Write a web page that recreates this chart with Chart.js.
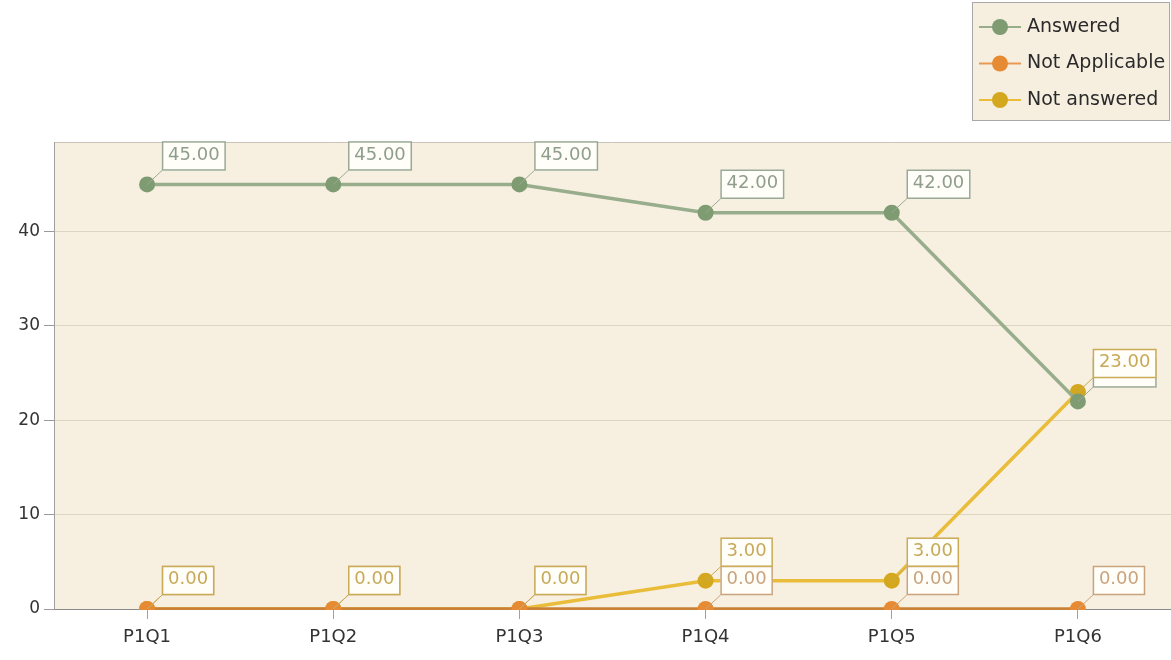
<!DOCTYPE html>
<html>
<head>
<meta charset="utf-8">
<script src="https://cdn.jsdelivr.net/npm/chart.js@4/dist/chart.umd.min.js"></script>
<style>
html,body{margin:0;padding:0;background:#fff;}
#wrap{width:1171px;height:660px;position:relative;}
</style>
</head>
<body>
<div id="wrap"><canvas id="c" width="1171" height="660"></canvas></div>
<script>
const categories = ["P1Q1", "P1Q2", "P1Q3", "P1Q4", "P1Q5", "P1Q6"];
const answered = [45, 45, 45, 42, 42, 22];
const notApplicable = [0, 0, 0, 0, 0, 0];
const notAnswered = [0, 0, 0, 3, 3, 23];
const seriesNames = ["Answered", "Not Applicable", "Not answered"];
const yTicks = [0, 10, 20, 30, 40];

const FONT = "'DejaVu Sans', sans-serif";
const styles = [
  {line: '#97ad8b', point: '#7f9b72', text: '#8f9e8c', box: '#9aa996'},
  {line: '#c98236', point: '#e68b33', text: '#c9a37e', box: '#c9a37e'},
  {line: '#e9bd3a', point: '#d4a81e', text: '#c7a95a', box: '#c9aa55'}
];

const bgPlugin = {
  id: 'bg',
  beforeDraw(chart) {
    const {ctx, chartArea: a} = chart;
    ctx.save();
    ctx.fillStyle = '#f7f0e1';
    ctx.fillRect(a.left, a.top, a.right - a.left, a.bottom - a.top);
    ctx.strokeStyle = '#c9c4ba';
    ctx.lineWidth = 1;
    ctx.beginPath();
    ctx.moveTo(a.left, a.top + 0.5);
    ctx.lineTo(a.right, a.top + 0.5);
    ctx.stroke();
    ctx.restore();
  }
};

const labelPlugin = {
  id: 'boxLabels',
  beforeDatasetsDraw(chart) {
    const {ctx, chartArea: a} = chart;
    ctx.save();
    ctx.beginPath();
    ctx.rect(a.left, 0, chart.width - a.left, a.bottom + 1);
    ctx.clip();
  },
  afterDatasetsDraw(chart) {
    const ctx = chart.ctx;
    ctx.restore();
    ctx.save();
    ctx.font = '18px ' + FONT;
    ctx.textBaseline = 'middle';
    chart.data.datasets.forEach((ds, di) => {
      const meta = chart.getDatasetMeta(di);
      const st = styles[di];
      meta.data.forEach((pt, i) => {
        const txt = ds.data[i].toFixed(2);
        const w = ctx.measureText(txt).width + 12;
        const h = 29;
        const bx = pt.x + 15, by = pt.y - 14 - h;
        ctx.strokeStyle = st.box;
        ctx.lineWidth = 1;
        ctx.beginPath();
        ctx.moveTo(pt.x, pt.y);
        ctx.lineTo(bx, by + h);
        ctx.stroke();
        ctx.fillStyle = '#fffef8';
        ctx.fillRect(bx, by, w, h);
        ctx.lineWidth = 1.5;
        ctx.strokeRect(bx + 0.5, by + 0.5, w - 1, h - 1);
        ctx.fillStyle = st.text;
        ctx.textAlign = 'left';
        ctx.fillText(txt, bx + 6, by + h / 2 - 1);
      });
    });
    ctx.restore();
  }
};

const legendPlugin = {
  id: 'customLegend',
  afterDraw(chart) {
    const ctx = chart.ctx;
    ctx.save();
    const x = 972, y = 2, w = 198, h = 119;
    ctx.fillStyle = '#f6efe0';
    ctx.fillRect(x, y, w, h);
    ctx.strokeStyle = '#a8a8a8';
    ctx.lineWidth = 1;
    ctx.strokeRect(x + 0.5, y + 0.5, w - 1, h - 1);
    ctx.font = '19px ' + FONT;
    ctx.textBaseline = 'middle';
    ctx.textAlign = 'left';
    seriesNames.forEach((name, i) => {
      const cy = 27 + i * 36.5;
      const st = styles[i];
      ctx.strokeStyle = i === 1 ? '#e89a55' : st.line;
      ctx.lineWidth = 2;
      ctx.beginPath();
      ctx.moveTo(979, cy);
      ctx.lineTo(1021, cy);
      ctx.stroke();
      ctx.fillStyle = st.point;
      ctx.beginPath();
      ctx.arc(1000, cy, 8, 0, Math.PI * 2);
      ctx.fill();
      ctx.fillStyle = '#2a2a2a';
      ctx.fillText(name, 1027, cy);
    });
    ctx.restore();
  }
};

const allSeries = [answered, notApplicable, notAnswered];
const datasets = allSeries.map((d, i) => ({
  label: seriesNames[i],
  data: d,
  borderColor: styles[i].line,
  backgroundColor: styles[i].point,
  pointBackgroundColor: styles[i].point,
  pointBorderWidth: 0,
  pointRadius: 8,
  pointHoverRadius: 8,
  borderWidth: 3.5,
  tension: 0,
  clip: false
}));

new Chart(document.getElementById('c'), {
  type: 'line',
  data: {labels: categories, datasets},
  options: {
    responsive: false,
    animation: false,
    events: [],
    layout: {autoPadding: false, padding: {top: 142, left: 0, right: 0, bottom: 0}},
    plugins: {legend: {display: false}, tooltip: {enabled: false}},
    scales: {
      x: {
        offset: true,
        grid: {display: true, drawOnChartArea: false, offset: false, tickLength: 10, tickColor: '#a0a0a0'},
        border: {color: '#8a8a8a', width: 1},
        ticks: {color: '#333', font: {family: FONT, size: 18}, padding: 8},
        afterFit(s) { s.height = 51; }
      },
      y: {
        min: 0,
        max: 49.5,
        afterBuildTicks(s) { s.ticks = yTicks.map(v => ({value: v})); },
        grid: {color: '#ddd4c2', tickColor: '#9a9a9a', tickLength: 10, lineWidth: 1},
        border: {color: '#a0a0a0', width: 1},
        ticks: {color: '#333', font: {family: FONT, size: 17}, padding: 4},
        afterFit(s) { s.width = 54; }
      }
    }
  },
  plugins: [bgPlugin, labelPlugin, legendPlugin]
});
</script>
</body>
</html>
